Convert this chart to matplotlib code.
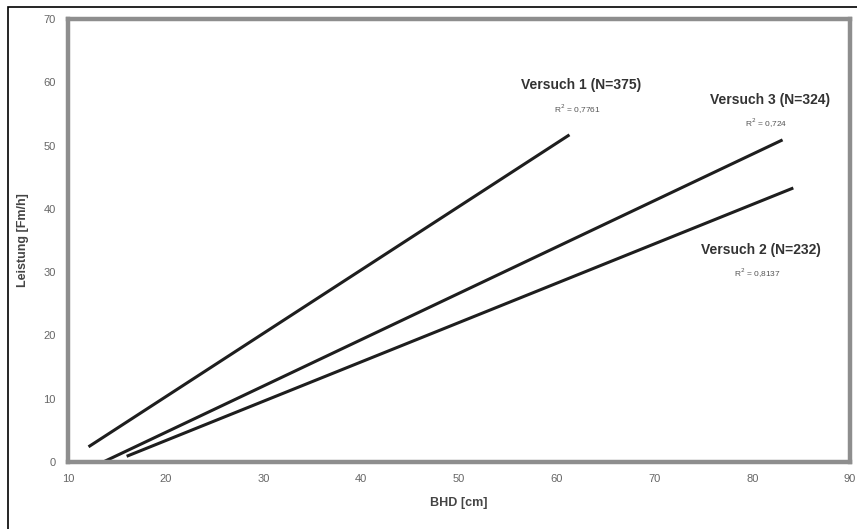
import matplotlib.pyplot as plt
from matplotlib.patches import Rectangle

# regression lines: (BHD start, BHD end), (Leistung start, Leistung end)
versuch_names = ['Versuch 1 (N=375)', 'Versuch 3 (N=324)', 'Versuch 2 (N=232)']
r2_labels = ['R$^2$ = 0,7761', 'R$^2$ = 0,724', 'R$^2$ = 0,8137']
bhd_start = [12.1, 13.6, 16.0]
bhd_end = [61.3, 83.1, 84.2]
leistung_start = [2.4, 0.0, 0.9]
leistung_end = [51.7, 50.9, 43.3]

# label anchor points in data coords
label_x = [62.5, 81.8, 80.9]
label_y = [59.5, 57.2, 33.5]

x_ticks = [10, 20, 30, 40, 50, 60, 70, 80, 90]
y_ticks = [0, 10, 20, 30, 40, 50, 60, 70]

plt.rcParams['font.family'] = ['Liberation Sans', 'DejaVu Sans']

fig = plt.figure(figsize=(8.57, 5.29), dpi=100)
ax = fig.add_axes([68/857, 1 - 462/529, (850 - 68)/857, (462 - 19)/529])

for i in range(len(versuch_names)):
	ax.plot([bhd_start[i], bhd_end[i]], [leistung_start[i], leistung_end[i]], color='#1e1e1e', lw=2.2, solid_capstyle='butt')
	ax.text(label_x[i], label_y[i], versuch_names[i], ha='center', va='center', fontsize=10, fontweight='bold', color='#333333')
	ax.text(label_x[i] - 0.4, label_y[i] - 3.7, r2_labels[i], ha='center', va='center', fontsize=6, color='#555555')

ax.set_xlim(10, 90)
ax.set_ylim(0, 70)
ax.set_xticks(x_ticks)
ax.set_yticks(y_ticks)
ax.tick_params(length=0, labelsize=8, labelcolor='#666666', pad=9)
for spine in ax.spines.values():
	spine.set_linewidth(3.2)
	spine.set_color('#8e8e8e')

ax.set_xlabel('BHD [cm]', fontsize=9, fontweight='bold', color='#444444', labelpad=9)
ax.set_ylabel('Leistung [Fm/h]', fontsize=9, fontweight='bold', color='#444444', labelpad=10)

# thin outer frame, only left and top edges are inside the image
fig.patches.append(Rectangle((8/857, -0.05), 1.1, 1 - 7/529 + 0.05, transform=fig.transFigure, fill=False, edgecolor='black', lw=1.2))

fig.savefig('out.png', dpi=100)
